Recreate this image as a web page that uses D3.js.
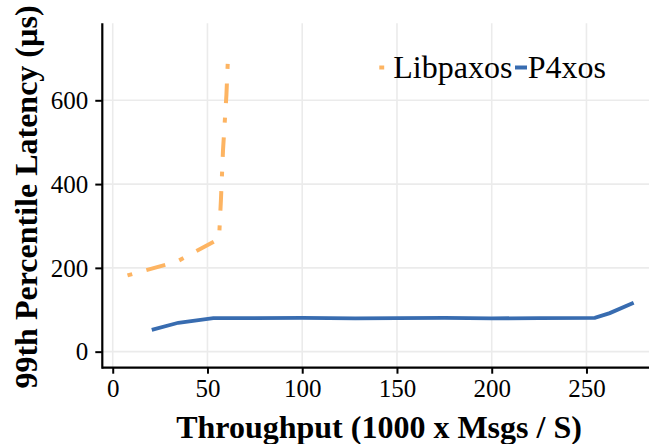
<!DOCTYPE html>
<html>
<head>
<meta charset="utf-8">
<script src="https://cdn.jsdelivr.net/npm/d3@7"></script>
<style>
  body { margin: 0; background: #fff; }
  text { font-family: "Liberation Serif", "Times New Roman", serif; fill: #000; }
  .grid line { stroke: #ebebeb; stroke-width: 1.6; }
</style>
</head>
<body>
<svg id="chart"></svg>
<script>
var width = 649,
    height = 444;

// throughput (1000 x msgs/s) and 99th percentile latency (us)
var libpaxos_x = [7.8, 33.9, 56.1, 57.1, 58.2, 60.0, 60.7],
    libpaxos_y = [182, 215, 269, 362, 481, 613, 689];

var p4xos_x = [20.6, 34.6, 53.1, 75, 100, 128, 150, 175, 200, 225, 254.4, 262.3, 274.9],
    p4xos_y = [52, 69, 80, 80, 80.5, 79.5, 80, 80.5, 79.5, 80, 80.5, 92, 117];

var x_ticks = [0, 50, 100, 150, 200, 250],
    y_ticks = [0, 200, 400, 600];

var series_names = ["Libpaxos", "P4xos"],
    series_colors = ["#fdb462", "#386cb0"];

var p_left = 102.3, p_right = 649, p_top = 23.3, p_bottom = 367.7;

// ggplot style "dotdash"
var dotdash = "4.9,14.7,19.6,14.7";

var svg = d3.select("#chart")
    .attr("width", width)
    .attr("height", height);

var x = d3.scaleLinear().domain([-5.5, 283]).range([p_left, p_right]),
    y = d3.scaleLinear().domain([-38.3, 783.8]).range([p_bottom, p_top]);

// grid
var grid = svg.append("g").attr("class", "grid");
grid.selectAll(".gx")
    .data(x_ticks)
  .enter().append("line")
    .attr("x1", d => x(d)).attr("x2", d => x(d))
    .attr("y1", p_top).attr("y2", p_bottom);
grid.selectAll(".gy")
    .data(y_ticks)
  .enter().append("line")
    .attr("x1", p_left).attr("x2", p_right)
    .attr("y1", d => y(d)).attr("y2", d => y(d));

var line = d3.line()
    .x(d => x(d[0]))
    .y(d => y(d[1]));

var libpaxos = libpaxos_x.map((d, i) => [d, libpaxos_y[i]]),
    p4xos = p4xos_x.map((d, i) => [d, p4xos_y[i]]);

svg.append("path")
    .datum(libpaxos)
    .attr("d", line)
    .attr("fill", "none")
    .attr("stroke", series_colors[0])
    .attr("stroke-width", 4)
    .attr("stroke-dasharray", dotdash);

svg.append("path")
    .datum(p4xos)
    .attr("d", line)
    .attr("fill", "none")
    .attr("stroke", series_colors[1])
    .attr("stroke-width", 3.8);

// axes
var xAxis = svg.append("g")
    .attr("transform", "translate(0," + p_bottom + ")")
    .call(d3.axisBottom(x).tickValues(x_ticks).tickSize(6).tickPadding(6));
var yAxis = svg.append("g")
    .attr("transform", "translate(" + p_left + ",0)")
    .call(d3.axisLeft(y).tickValues(y_ticks).tickSize(7).tickPadding(7));

[xAxis, yAxis].forEach(function(a) {
  a.select(".domain").remove();
  a.selectAll(".tick line").attr("stroke", "#000").attr("stroke-width", 2);
  a.selectAll(".tick text")
      .style("font-family", '"Liberation Serif", "Times New Roman", serif')
      .style("font-size", "25px")
      .attr("fill", "#000");
});
xAxis.selectAll(".tick text").attr("dy", "0.71em");
yAxis.selectAll(".tick text").attr("dy", "0.33em");

svg.append("line")
    .attr("x1", p_left).attr("x2", p_right)
    .attr("y1", p_bottom).attr("y2", p_bottom)
    .attr("stroke", "#000").attr("stroke-width", 2.2);
svg.append("line")
    .attr("x1", p_left).attr("x2", p_left)
    .attr("y1", p_top).attr("y2", p_bottom + 1.1)
    .attr("stroke", "#000").attr("stroke-width", 2.2);

// titles
svg.append("text")
    .attr("x", 379)
    .attr("y", 438)
    .attr("text-anchor", "middle")
    .style("font-size", "32px")
    .style("font-weight", "bold")
    .text("Throughput (1000 x Msgs / S)");

svg.append("text")
    .attr("transform", "translate(37,197)rotate(-90)")
    .attr("text-anchor", "middle")
    .style("font-size", "32px")
    .style("font-weight", "bold")
    .text("99th Percentile Latency (µs)");

// legend
var legend_keys = [379.3, 515],
    legend_text = [393.3, 527.7];

series_names.forEach(function(name, i) {
  svg.append("line")
      .attr("x1", legend_keys[i]).attr("x2", legend_keys[i] + 12)
      .attr("y1", 67.5).attr("y2", 67.5)
      .attr("stroke", series_colors[i])
      .attr("stroke-width", 4)
      .attr("stroke-dasharray", i == 0 ? dotdash : null);
  svg.append("text")
      .attr("x", legend_text[i])
      .attr("y", 78.3)
      .style("font-size", "32px")
      .text(name);
});
</script>
</body>
</html>
